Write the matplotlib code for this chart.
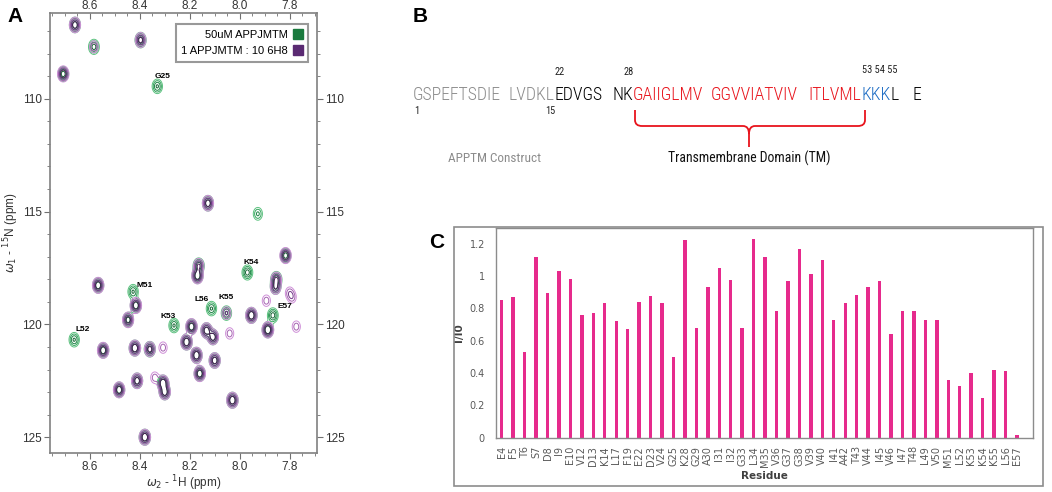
import numpy as np
import matplotlib.pyplot as plt
from matplotlib.path import Path
from matplotlib.patches import PathPatch, Rectangle
from matplotlib.lines import Line2D

# ---- panel A: HSQC peaks (1H ppm, 15N ppm, green amp, purple amp)
peak_h = [8.660, 8.584, 8.397, 8.707, 8.330, 8.127, 7.927, 7.816, 8.164, 8.169,
          7.969, 7.853, 7.856, 8.567, 8.427, 7.800, 8.416, 8.447, 8.113, 8.053,
          7.953, 7.867, 7.887, 7.773, 8.263, 8.663, 8.547, 8.420, 8.360, 8.307,
          8.193, 8.213, 8.133, 8.107, 8.173, 8.100, 8.160, 8.040, 8.483, 8.411,
          8.307, 8.300, 8.340, 8.029, 8.380, 7.893, 7.790]
peak_n = [106.73, 107.70, 107.40, 108.90, 109.45, 114.63, 115.10, 116.95, 117.40, 117.85,
          117.70, 118.00, 118.35, 118.27, 118.55, 118.60, 119.16, 119.80, 119.30, 119.50,
          119.60, 119.60, 120.24, 120.10, 120.05, 120.68, 121.15, 121.05, 121.10, 121.03,
          120.10, 120.78, 120.27, 120.56, 121.37, 121.60, 122.18, 120.40, 122.90, 122.50,
          122.60, 123.00, 122.36, 123.36, 125.00, 118.95, 118.80]
green_amp = [0.8, 0.7, 0.8, 0.7, 0.6, 0.8, 0.4, 0.7, 0.8, 0.8,
             0.7, 0.8, 0.6, 0.8, 0.6, 0.0, 0.8, 0.7, 0.6, 0.6,
             0.9, 0.7, 0.9, 0.0, 0.6, 0.6, 0.8, 0.9, 0.8, 0.0,
             0.8, 0.9, 0.8, 0.8, 0.9, 0.8, 0.8, 0.0, 0.8, 0.8,
             0.9, 0.8, 0.0, 0.9, 0.9, 0.0, 0.0]
purple_amp = [0.8, 0.35, 0.7, 0.9, 0.0, 0.8, 0.0, 0.9, 0.6, 0.9,
              0.0, 0.6, 0.6, 0.9, 0.0, 0.3, 0.9, 0.8, 0.0, 0.4,
              0.9, 0.0, 1.0, 0.3, 0.0, 0.0, 0.9, 0.9, 0.7, 0.3,
              0.9, 0.9, 0.8, 0.8, 0.9, 0.8, 0.9, 0.3, 0.9, 0.8,
              0.9, 0.8, 0.3, 0.9, 0.9, 0.3, 0.3]

label_names = ['G25', 'K54', 'M51', 'L56', 'K55', 'E57', 'K53', 'L52']
label_h = [8.308, 7.952, 8.380, 8.153, 8.053, 7.820, 8.287, 8.631]
label_n = [109.03, 117.26, 118.27, 118.90, 118.79, 119.20, 119.65, 120.23]

# ---- panel C: relative intensity
residues = ['E4', 'F5', 'T6', 'S7', 'D8', 'I9', 'E10', 'V12', 'D13', 'K14', 'L17', 'F19',
            'E22', 'D23', 'V24', 'G25', 'K28', 'G29', 'A30', 'I31', 'I32', 'G33', 'L34',
            'M35', 'V36', 'G37', 'G38', 'V39', 'V40', 'I41', 'A42', 'T43', 'V44', 'I45',
            'V46', 'I47', 'T48', 'L49', 'V50', 'M51', 'L52', 'K53', 'K54', 'K55', 'L56', 'E57']
ratio = [0.854, 0.869, 0.533, 1.116, 0.893, 1.035, 0.980, 0.760, 0.772, 0.836, 0.722, 0.675,
         0.838, 0.877, 0.832, 0.498, 1.221, 0.677, 0.932, 1.048, 0.978, 0.677, 1.227,
         1.116, 0.786, 0.967, 1.169, 1.011, 1.101, 0.729, 0.834, 0.883, 0.935, 0.970,
         0.640, 0.786, 0.786, 0.729, 0.729, 0.360, 0.321, 0.399, 0.245, 0.418, 0.412, 0.019]

# ---- panel B: sequence segments (text, colour)
seq_parts = ['GSPEFTSDIE', 'LVDKL', 'EDVGS', 'NK', 'GAIIGLMV', 'GGVVIATVIV', 'ITLVML', 'KKK', 'L', 'E']
seq_colors = ['#8c8c8c', '#8c8c8c', 'black', 'black', '#e8141c', '#e8141c', '#e8141c',
              '#1c6cc4', 'black', 'black']

W, H = 1052, 492
fig = plt.figure(figsize=(W / 100, H / 100), dpi=100)
ARIAL = ['Liberation Sans', 'DejaVu Sans']
NARROW = ['Roboto Condensed', 'Liberation Sans Narrow', 'DejaVu Sans']

#####
"""Panel A"""
axA = fig.add_axes([50 / W, 1 - 453 / H, 267 / W, 440 / H])
hh = np.linspace(7.69, 8.76, 800)
nn = np.linspace(106.2, 125.7, 800)
HH, NN = np.meshgrid(hh, nn)


def spectrum(amps):
    z = np.zeros_like(HH)
    for h0, n0, a in zip(peak_h, peak_n, amps):
        if a > 0:
            z += a * np.exp(-((HH - h0) / 0.011) ** 2 / 2 - ((NN - n0) / 0.17) ** 2 / 2)
    return z


levels = [0.1, 0.2, 0.35, 0.55]
axA.contour(HH, NN, spectrum(green_amp), levels=levels,
            colors=['#5cc27f', '#35a45e', '#1f8546', '#146433'], linewidths=0.7)
axA.contour(HH, NN, spectrum(purple_amp), levels=levels,
            colors=['#cf8fd8', '#a462b0', '#74398a', '#4a1f57'], linewidths=0.7)
for name, h0, n0 in zip(label_names, label_h, label_n):
    axA.text(h0, n0, name, fontsize=6, fontweight='bold', ha='center', va='center', family=ARIAL)

axA.set_xlim(8.76, 7.69)
axA.set_ylim(125.7, 106.2)
xmaj = [8.6, 8.4, 8.2, 8.0, 7.8]
xmin = np.arange(7.70, 8.76, 0.05)
axA.set_xticks(xmaj)
axA.set_xticks(xmin, minor=True)
axA.set_yticks([110, 115, 120, 125])
axA.set_yticks(np.arange(107, 126, 1), minor=True)
axA.tick_params(which='both', direction='out', right=True, labelright=True,
                colors='#707070', labelcolor='#333333', labelsize=8.5, pad=2)
axA.tick_params(which='major', length=4)
axA.tick_params(which='minor', length=2.5)
for lab in axA.get_xticklabels() + axA.get_yticklabels():
    lab.set_family(ARIAL)
top = axA.secondary_xaxis('top')
top.set_xticks(xmaj)
top.set_xticks(xmin, minor=True)
top.tick_params(which='both', direction='in', colors='#707070', labelcolor='#333333',
                labelsize=8.5, pad=1)
top.tick_params(which='major', length=4)
top.tick_params(which='minor', length=2.5)
top.spines['top'].set_visible(False)
for lab in top.get_xticklabels():
    lab.set_family(ARIAL)
for s in axA.spines.values():
    s.set_color('#808080')
    s.set_linewidth(1.2)
axA.set_xlabel(r'$\omega_2$ - $^1$H (ppm)', fontsize=8.5, color='#333333', labelpad=0, family=ARIAL)
axA.set_ylabel(r'$\omega_1$ - $^{15}$N (ppm)', fontsize=8.5, color='#333333', labelpad=1, family=ARIAL)
handles = [Line2D([], [], ls='', marker='s', ms=6.5, color='#1a7a3e'),
           Line2D([], [], ls='', marker='s', ms=6.5, color='#5a2a72')]
leg = axA.legend(handles, ['50uM APPJMTM', '1 APPJMTM : 10 6H8'], loc='upper right',
                 bbox_to_anchor=(0.966, 0.975), borderaxespad=0, markerfirst=False,
                 fancybox=False, handletextpad=0.5, borderpad=0.5,
                 labelspacing=0.6, handlelength=0.8, prop={'family': ARIAL, 'size': 8})
leg.get_frame().set_edgecolor('#808080')
leg.get_frame().set_linewidth(1.5)
fig.text(15 / W, 1 - 17 / H, 'A', fontsize=15, fontweight='bold', ha='center', va='center', family=ARIAL)

#####
"""Panel B in pixel coordinates"""
axB = fig.add_axes([0, 0, 1, 1])
axB.set_xlim(0, W)
axB.set_ylim(H, 0)
axB.axis('off')
axB.patch.set_alpha(0)
renderer = fig.canvas.get_renderer()


def fit_text(x, y, s, width, **kw):
    t = axB.text(x, y, s, fontsize=20, family=NARROW, stretch='condensed', **kw)
    w = t.get_window_extent(renderer).width
    t.set_fontsize(20 * width / w)
    return t


seq_gaps = [0, 7, 0, 10, 0, 8, 10, 0, 0, 14]
seq_total = 922 - 413
probe = axB.text(0, 0, ''.join(seq_parts), fontsize=20, family=NARROW, stretch='condensed',
                 fontweight='light')
fs = 20 * (seq_total - sum(seq_gaps)) / probe.get_window_extent(renderer).width
probe.remove()
x0 = 413
for txt, col, gap in zip(seq_parts, seq_colors, seq_gaps):
    x0 += gap
    t = axB.text(x0, 100, txt, color=col, fontsize=fs, ha='left', va='baseline',
                 family=NARROW, stretch='condensed', fontweight='light')
    x0 += t.get_window_extent(renderer).width
for txt, xa, ya in [('22', 560, 72), ('28', 629, 72), ('53 54 55', 880, 70),
                    ('1', 417, 111), ('15', 550, 111)]:
    axB.text(xa, ya, txt, fontsize=7.5, ha='center', va='center', color='#222222',
             family=NARROW, stretch='condensed')

xl, xr, xc = 635, 865, 749
verts = [(xl, 110), (xl, 120), (xl, 126), (xl + 7, 126), (xc - 6, 126), (xc, 126), (xc, 134), (xc, 147),
         (xc, 134), (xc, 126), (xc + 6, 126), (xr - 7, 126), (xr, 126), (xr, 120), (xr, 110)]
codes = [Path.MOVETO, Path.LINETO, Path.CURVE3, Path.CURVE3, Path.LINETO, Path.CURVE3, Path.CURVE3,
         Path.LINETO, Path.MOVETO, Path.CURVE3, Path.CURVE3, Path.LINETO, Path.CURVE3, Path.CURVE3,
         Path.LINETO]
axB.add_patch(PathPatch(Path(verts, codes), fill=False, edgecolor='#e8141c', lw=1.3))
t1 = fit_text(749, 158, 'Transmembrane Domain (TM)', 151, ha='center', va='center', color='#111111')
t2 = fit_text(495, 158, 'APPTM Construct', 86, ha='center', va='center', color='#8c8c8c')
for t in (t1, t2):
    t.set_fontsize(t.get_fontsize() * 1.08)
fig.text(420 / W, 1 - 17 / H, 'B', fontsize=15, fontweight='bold', ha='center', va='center', family=ARIAL)

#####
"""Panel C"""
fig.patches.append(Rectangle((454 / W, 1 - 486 / H), 589 / W, 259 / H, transform=fig.transFigure,
                             fill=False, edgecolor='#8c8c8c', lw=1.2))
axC = fig.add_axes([496 / W, 1 - 437.7 / H, 537 / W, 210 / H])
xpos = np.arange(len(residues))
axC.bar(xpos, ratio, width=0.3, color='#e62a8c')
axC.set_xlim(-0.5, 46.4)
axC.set_ylim(0, 1.3)
axC.set_yticks([0, 0.2, 0.4, 0.6, 0.8, 1, 1.2])
axC.set_yticklabels(['0', '0.2', '0.4', '0.6', '0.8', '1', '1.2'])
axC.set_xticks(xpos)
axC.set_xticklabels(residues, rotation=90)
axC.tick_params(length=0, labelsize=7, labelcolor='#595959')
axC.tick_params(axis='x', pad=6)
axC.tick_params(axis='y', pad=8)
for s in axC.spines.values():
    s.set_color('#8c8c8c')
    s.set_linewidth(1)
axC.set_xlabel('Residue', fontsize=7.5, fontweight='bold', color='#404040', labelpad=3)
axC.set_ylabel('I/I0', fontsize=7.5, fontweight='bold', color='#404040', labelpad=4)
fig.text(437 / W, 1 - 242 / H, 'C', fontsize=15, fontweight='bold', ha='center', va='center', family=ARIAL)

fig.savefig('out.png', dpi=100)
